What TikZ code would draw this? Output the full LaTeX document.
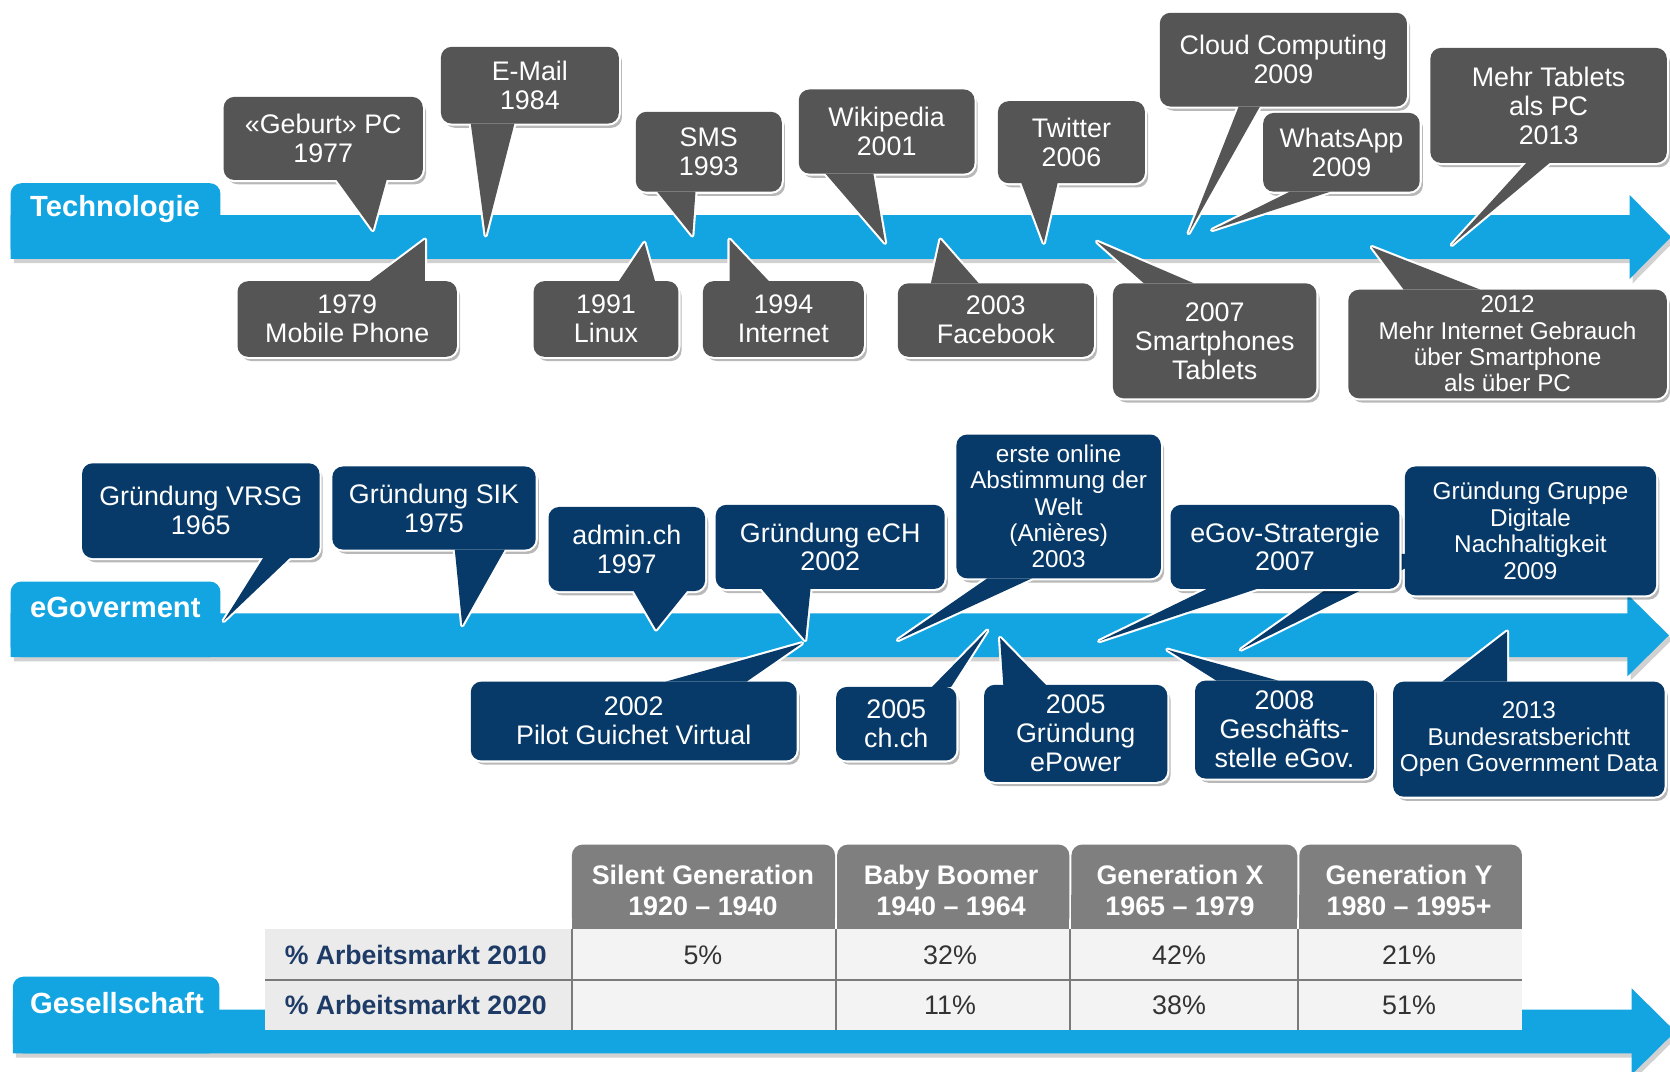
\documentclass[tikz,border=0pt]{standalone}
\usepackage{fontspec}
\setmainfont{Liberation Sans}
\usetikzlibrary{calc}
\definecolor{barblue}{HTML}{12A5E1}
\definecolor{grc}{HTML}{555555}
\definecolor{navc}{HTML}{073A68}
\definecolor{hdrc}{HTML}{7F7F7F}
\definecolor{lblbg}{HTML}{EBEBEB}
\definecolor{valbg}{HTML}{F3F3F3}
\definecolor{lbltxt}{HTML}{1D3B66}
\definecolor{valc}{HTML}{333333}
\definecolor{sepc}{HTML}{7A7A7A}
% callout: #1 fill, #2 name, #3 corner1, #4 corner2, #5 base1, #6 tip, #7 base2, #8 font style, #9 text
\newcommand\co[9]{%
  \fill[black,opacity=.28,rounded corners=5pt] ([shift={(3,4)}]#3) rectangle ([shift={(3,4)}]#4);
  \filldraw[white,line width=2pt,line join=round] (#5) -- (#6) -- (#7) -- cycle;
  \filldraw[white,line width=2pt,rounded corners=5pt] (#3) rectangle (#4);
  \fill[#1] (#5) -- (#6) -- (#7) -- cycle;
  \fill[#1,rounded corners=5pt] (#3) rectangle (#4);
  \node[ctxt,#8] (#2) at ($(#3)!.5!(#4)$) {#9};
}
\begin{document}
\begin{tikzpicture}[x=0.5pt,y=-0.5pt,
  ctxt/.style={text=white,align=center,inner sep=0pt},
  fbig/.style={font=\fontsize{12.6}{13.6}\selectfont},
  fsmall/.style={font=\fontsize{11.4}{12.4}\selectfont},
  tablab/.style={text=white,anchor=west,inner sep=0pt,font=\bfseries\fontsize{13.7}{15}\selectfont},
  hdrtxt/.style={text=white,align=center,inner sep=0pt,font=\bfseries\fontsize{12.6}{15}\selectfont},
  rowlab/.style={text=lbltxt,anchor=west,inner sep=0pt,font=\bfseries\fontsize{12.5}{14}\selectfont},
  valtxt/.style={text=valc,inner sep=0pt,font=\fontsize{12.6}{14}\selectfont},
  barsh/.style={black,opacity=.18},
]
\useasboundingbox (0,0) rectangle (1568,1006);
\fill[white] (0,0) rectangle (1568,1006);

% ---------- bands ----------
% Technologie
\fill[barsh] (13,206) -- (1533,206) -- (1533,187) -- (1572,226.5) -- (1533,266) -- (1533,247) -- (13,247) -- cycle;
\fill[barblue,rounded corners=5pt] (10,172) rectangle (207,243);
\fill[barblue] (10,202) -- (1530,202) -- (1530,183) -- (1569,222.5) -- (1530,262) -- (1530,243) -- (10,243) -- cycle;
\node[tablab] (tech) at (28,196) {Technologie};
% eGoverment
\fill[barsh] (13,580) -- (1531,580) -- (1531,562) -- (1570,600.5) -- (1531,639) -- (1531,621) -- (13,621) -- cycle;
\fill[barblue,rounded corners=5pt] (10,546) rectangle (207,617);
\fill[barblue] (10,576) -- (1528,576) -- (1528,558) -- (1567,596.5) -- (1528,635) -- (1528,617) -- (10,617) -- cycle;
\node[tablab] (egov) at (28,570) {eGoverment};
% Gesellschaft
\fill[barsh] (15,952) -- (1535,952) -- (1535,932) -- (1576,972.5) -- (1535,1013) -- (1535,993) -- (15,993) -- cycle;
\fill[barblue,rounded corners=5pt] (12,917) rectangle (206,989);
\fill[barblue] (12,948) -- (1532,948) -- (1532,928) -- (1573,968.5) -- (1532,1009) -- (1532,989) -- (12,989) -- cycle;
\node[tablab] (ges) at (28,942) {Gesellschaft};

% ---------- Technologie callouts ----------
\co{grc}{geburt}{210,91}{397,169}{316,169}{350,216}{363,169}{fbig}{«Geburt» PC\\1977}
\co{grc}{email}{414,44}{581,116}{442,116}{456,221}{483,116}{fbig}{E-Mail\\1984}
\co{grc}{sms}{597,105}{734,180}{617,180}{650,221}{653,180}{fbig}{SMS\\1993}
\co{grc}{wiki}{750,84}{915,163}{775,163}{831,228}{820,163}{fbig}{Wikipedia\\2001}
\co{grc}{twitter}{937,95}{1075,172}{959,172}{980,228}{993,172}{fbig}{Twitter\\2006}
\co{grc}{cloud}{1089,12}{1321,100}{1163,100}{1116,219}{1183,100}{fbig}{Cloud Computing\\2009}
\co{grc}{whatsapp}{1186,106}{1333,180}{1211,180}{1138,216}{1249,180}{fbig}{WhatsApp\\2009}
\co{grc}{tablets}{1343,45}{1565,153}{1433,153}{1363,230}{1455,153}{fbig}{Mehr Tablets\\als PC\\2013}
\co{grc}{mobile}{223,264}{429,335}{347,264}{399,225}{399,264}{fbig}{1979\\Mobile Phone}
\co{grc}{linux}{501,264}{637,335}{581,264}{605,228}{615,264}{fbig}{1991\\Linux}
\co{grc}{internet}{660,264}{811,335}{685,264}{685,225}{722,264}{fbig}{1994\\Internet}
\co{grc}{facebook}{843,266}{1027,335}{874,266}{883,225}{919,266}{fbig}{2003\\Facebook}
\co{grc}{smart}{1045,266}{1236,374}{1074,266}{1030,227}{1121,266}{fbig}{2007\\Smartphones\\Tablets}
\co{grc}{net2012}{1266,272}{1565,374}{1318,272}{1288,232}{1390,272}{fsmall}{2012\\Mehr Internet Gebrauch\\über Smartphone\\als über PC}

% ---------- eGoverment callouts ----------
\co{navc}{vrsg}{77,435}{300,524}{247,524}{210,583}{272,524}{fbig}{Gründung VRSG\\1965}
\co{navc}{sik}{312,438}{503,516}{427,516}{434,587}{474,516}{fbig}{Gründung SIK\\1975}
\co{navc}{admin}{515,476}{662,555}{595,555}{616,591}{645,555}{fbig}{admin.ch\\1997}
\co{navc}{ech}{672,474}{887,553}{715,553}{756,601}{761,553}{fbig}{Gründung eCH\\2002}
\co{navc}{erste}{898,408}{1090,543}{927,543}{843,601}{969,543}{fsmall}{erste online\\Abstimmung der\\Welt\\(Anières)\\2003}
\co{navc}{gruppe}{1319,438}{1555,559}{1292,520}{1165,610}{1347,520}{fsmall}{Gründung Gruppe\\Digitale\\Nachhaltigkeit\\2009}
\co{navc}{strat}{1099,474}{1314,553}{1133,553}{1032,602}{1180,553}{fbig}{eGov-Stratergie\\2007}
\co{navc}{pilot}{442,640}{748,714}{625,640}{753,604}{701,640}{fbig}{2002\\Pilot Guichet Virtual}
\co{navc}{chch}{785,645}{898,714}{875,645}{927,592}{893,645}{fbig}{2005\\ch.ch}
\co{navc}{epower}{924,643}{1096,734}{942,643}{939,599}{982,643}{fbig}{2005\\Gründung\\ePower}
\co{navc}{gesch}{1122,639}{1290,731}{1142,639}{1096,610}{1200,639}{fbig}{2008\\Geschäfts-\\stelle eGov.}
\co{navc}{bund}{1308,640}{1563,748}{1354,640}{1415,593}{1415,640}{fsmall}{2013\\Bundesratsberichtt\\Open Government Data}

% ---------- table ----------
\fill[lblbg] (249,872) rectangle (537,967);
\fill[valbg] (537,872) rectangle (1429,967);
\foreach \a/\b in {537/784,786/1004,1006/1218,1220/1429} {
  \fill[hdrc,rounded corners=5pt] (\a,793) rectangle (\b,872);
  \fill[hdrc] (\a,840) rectangle (\b,872);
}
\draw[sepc,line width=1pt] (249,920) -- (1429,920);
\foreach \x in {537,785,1005,1219} { \draw[sepc,line width=1pt] (\x,872) -- (\x,967); }

\node[hdrtxt] (h1) at (660,836) {Silent Generation\\1920 – 1940};
\node[hdrtxt] (h2) at (893,836) {Baby Boomer\\1940 – 1964};
\node[hdrtxt] (h3) at (1108,836) {Generation X\\1965 – 1979};
\node[hdrtxt] (h4) at (1323,836) {Generation Y\\1980 – 1995+};

\node[rowlab] (r1) at (267,897) {\% Arbeitsmarkt 2010};
\node[rowlab] (r2) at (267,944) {\% Arbeitsmarkt 2020};

\node[valtxt] (v11) at (660,897) {5\%};
\node[valtxt] (v12) at (892,897) {32\%};
\node[valtxt] (v13) at (1107,897) {42\%};
\node[valtxt] (v14) at (1323,897) {21\%};
\node[valtxt] (v22) at (892,944) {11\%};
\node[valtxt] (v23) at (1107,944) {38\%};
\node[valtxt] (v24) at (1323,944) {51\%};
\end{tikzpicture}
\end{document}
